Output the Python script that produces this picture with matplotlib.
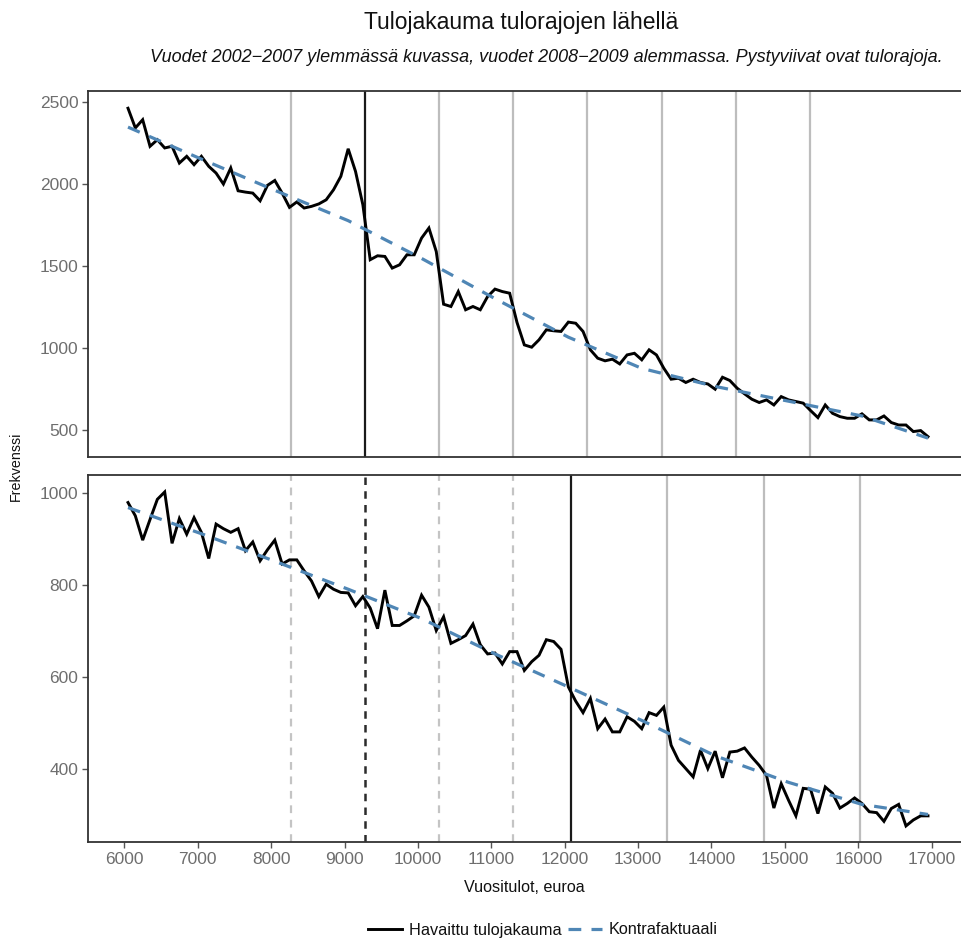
import numpy as np
import matplotlib
matplotlib.use("Agg")
import matplotlib.pyplot as plt
from matplotlib.lines import Line2D

plt.rcParams['font.family'] = ['Liberation Sans', 'DejaVu Sans']

# bin centres (100 euro bins)
income = np.arange(6050, 17000, 100)

# 2002-2007 observed frequencies
top_obs = [2460, 2340, 2390, 2228, 2268, 2218, 2228, 2126, 2167, 2116,
           2167, 2106, 2065, 1998, 2096, 1957, 1949, 1943, 1896, 1990,
           2020, 1943, 1856, 1889, 1852, 1862, 1877, 1902, 1963, 2045,
           2213, 2075, 1872, 1537, 1561, 1557, 1486, 1506, 1567, 1567,
           1669, 1730, 1587, 1266, 1252, 1343, 1232, 1252, 1232, 1313,
           1358, 1343, 1333, 1155, 1018, 1004, 1049, 1110, 1104, 1100,
           1157, 1150, 1100, 988, 937, 921, 931, 902, 957, 967,
           927, 988, 957, 876, 809, 815, 789, 809, 789, 780,
           748, 821, 801, 754, 720, 687, 667, 683, 652, 703,
           683, 673, 663, 618, 575, 652, 601, 581, 571, 571,
           598, 561, 561, 585, 545, 530, 530, 490, 496, 459]

# 2008-2009 observed frequencies
bottom_obs = [980, 951, 898, 943, 987, 1003, 891, 945, 911, 947,
              915, 858, 933, 923, 915, 923, 875, 894, 853, 877,
              898, 846, 855, 855, 831, 809, 775, 802, 791, 784,
              783, 755, 775, 750, 705, 789, 712, 712, 722, 733,
              778, 752, 701, 731, 673, 681, 690, 715, 670, 650,
              652, 628, 655, 655, 614, 633, 647, 681, 677, 660,
              578, 547, 522, 553, 487, 508, 480, 480, 513, 503,
              487, 522, 516, 534, 451, 418, 400, 382, 440, 400,
              438, 380, 436, 438, 445, 425, 407, 385, 314, 367,
              331, 297, 357, 355, 302, 360, 346, 314, 324, 336,
              324, 306, 304, 285, 313, 322, 275, 288, 297, 297]

# counterfactual curves read at a few points
cf_x = [6050, 7050, 8050, 9050, 10050, 11050, 12050, 13050, 14050, 15050, 16050, 16950]
top_cf = [2345, 2150, 1960, 1775, 1545, 1300, 1065, 875, 765, 675, 585, 450]
bottom_cf = [969, 912, 852, 791, 727, 650, 578, 505, 428, 370, 322, 300]

# income limits
top_limits = [8270, 9280, 10290, 11300, 12310, 13320, 14330, 15340]
top_active = 9280
bottom_old_limits = [8270, 9280, 10290, 11300]
bottom_limits = [12080, 13395, 14710, 16025]
bottom_active = 12080

W, H = 961, 942
fig = plt.figure(figsize=(W / 100, H / 100), dpi=100)

ax1 = fig.add_axes([88 / W, 1 - 457 / H, 880 / W, 366 / H])
ax2 = fig.add_axes([88 / W, 1 - 842 / H, 880 / W, 367 / H])

obs_style = dict(color='black', lw=2.1, solid_joinstyle='miter', zorder=4)
cf_style = dict(color='#4f86b5', lw=2.3, dashes=(4, 3.2), zorder=5)

# top panel
for x in top_limits:
    if x == top_active:
        ax1.axvline(x, color='#1a1a1a', lw=1.6, zorder=2)
    else:
        ax1.axvline(x, color='#bdbdbd', lw=1.6, zorder=1)
ax1.plot(income, top_obs, **obs_style)
ax1.plot(cf_x, top_cf, **cf_style)
ax1.set_ylim(335, 2565)
ax1.set_yticks([500, 1000, 1500, 2000, 2500])
ax1.set_xticks([])

# bottom panel
for x in bottom_old_limits:
    if x == top_active:
        ax2.axvline(x, color='#2b2b2b', lw=1.8, dashes=(3, 2.5), zorder=2)
    else:
        ax2.axvline(x, color='#c4c4c4', lw=1.6, dashes=(3.5, 3), zorder=1)
for x in bottom_limits:
    if x == bottom_active:
        ax2.axvline(x, color='#1a1a1a', lw=1.6, zorder=2)
    else:
        ax2.axvline(x, color='#bdbdbd', lw=1.6, zorder=1)
ax2.plot(income, bottom_obs, **obs_style)
ax2.plot(cf_x, bottom_cf, **cf_style)
ax2.set_ylim(240, 1040)
ax2.set_yticks([400, 600, 800, 1000])
ax2.set_xticks(np.arange(6000, 17001, 1000))

for ax in (ax1, ax2):
    ax.set_xlim(5505, 17495)
    for s in ax.spines.values():
        s.set_color('#333333')
        s.set_linewidth(1.3)
    ax.tick_params(axis='both', direction='out', length=4, width=1,
                   color='#555555', labelcolor='#6e6e6e', labelsize=12.5, pad=3)

fig.text(521 / W, 1 - 22 / H, 'Tulojakauma tulorajojen lähellä',
         ha='center', va='center', fontsize=16.5, color='#111111')
fig.text(546 / W, 1 - 58 / H,
         'Vuodet 2002\u22122007 ylemmässä kuvassa, vuodet 2008\u22122009 alemmassa. '
         'Pystyviivat ovat tulorajoja.',
         ha='center', va='center', fontsize=13, style='italic', color='#111111')
fig.text(16 / W, 1 - 466 / H, 'Frekvenssi', rotation=90,
         ha='center', va='center', fontsize=10.3, color='#111111')
fig.text(524 / W, 1 - 888 / H, 'Vuositulot, euroa',
         ha='center', va='center', fontsize=11.6, color='#111111')

handles = [Line2D([], [], color='black', lw=2.1),
           Line2D([], [], color='#4f86b5', lw=2.3, dashes=(4, 3.2))]
fig.legend(handles, ['Havaittu tulojakauma', 'Kontrafaktuaali'],
           loc='center', bbox_to_anchor=(543 / W, 1 - 930 / H), ncol=2,
           frameon=False, fontsize=11.7, handlelength=2.1, handletextpad=0.4,
           columnspacing=0.4, labelcolor='#111111')

fig.savefig('out.png', dpi=100)
